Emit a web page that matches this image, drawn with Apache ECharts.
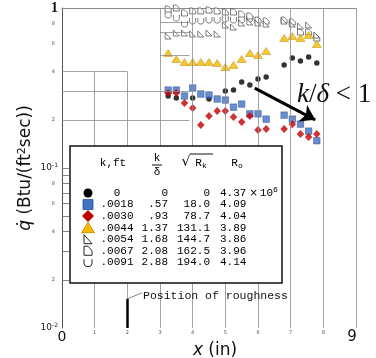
<!DOCTYPE html>
<html lang="en">
<head>
    <meta charset="UTF-8">
    <title>Heat transfer downstream of roughness</title>
    <style>
        html, body {margin: 0; padding: 0; background: #fff;}
        #main {width: 376px; height: 358px;}
    </style>
</head>
<body>
<div id="main"></div>
<script src="https://cdn.jsdelivr.net/npm/echarts@6.0.0/dist/echarts.min.js"></script>
<script>
    /* gauge positions, x (in) */
    var xRough = [3.25, 3.5, 3.75, 4.0, 4.25, 4.5, 4.75, 5.0, 5.25, 5.5, 5.75, 6.0, 6.25, 6.8, 7.05, 7.3, 7.55, 7.8];
    var xSmooth = [3.25, 3.5, 4.0, 4.5, 5.0, 5.25, 5.5, 5.75, 6.0, 6.25, 6.8, 7.05, 7.3, 7.55, 7.8];
    var xCup = [3.25, 3.5, 3.75, 4.0, 4.25, 4.5, 4.75, 5.0, 5.25, 5.5, 5.75];

    /* q dot, Btu/(ft^2 sec) */
    var q0000 = [0.282, 0.274, 0.274, 0.270, 0.303, 0.307, 0.345, 0.330, 0.360, 0.370, 0.441, 0.487, 0.466, 0.494, 0.453];
    var q0018 = [0.307, 0.307, 0.282, 0.316, 0.290, 0.286, 0.270, 0.266, 0.240, 0.251, 0.218, 0.218, 0.202, 0.214, 0.202, 0.188, 0.170, 0.148];
    var q0030 = [0.294, 0.294, 0.255, 0.237, 0.186, 0.211, 0.227, 0.227, 0.208, 0.194, 0.211, 0.173, 0.175, 0.175, 0.188, 0.163, 0.156, 0.163];
    var q0044 = [0.523, 0.480, 0.460, 0.460, 0.460, 0.460, 0.453, 0.428, 0.441, 0.480, 0.523, 0.508, 0.539, 0.649, 0.668, 0.649, 0.678, 0.596];
    var q0054 = [0.668, 0.698, 0.698, 0.688, 0.688, 0.698, 0.688, 0.783, 0.761, 0.806, 0.818, 0.806, 0.794, 0.829, 0.794, 0.772, 0.783, 0.678];
    var q0067 = [0.986, 1.000, 0.931, 0.958, 0.958, 0.972, 0.958, 0.944, 0.944, 0.917, 0.891, 0.841, 0.829, 0.841, 0.818, 0.708, 0.708, 0.649];
    var q0091 = [0.904, 0.866, 0.794, 0.829, 0.829, 0.841, 0.841, 0.854, 0.841, 0.841, 0.854];

    /* legend table */
    var kFt = ['0', '.0018', '.0030', '.0044', '.0054', '.0067', '.0091'];
    var kDelta = ['0', '.57', '.93', '1.37', '1.68', '2.08', '2.88'];
    var sqrtRk = ['0', '18.0', '78.7', '131.1', '144.7', '162.5', '194.0'];
    var Ro = ['4.37', '4.09', '4.04', '3.89', '3.86', '3.96', '4.14'];

    /* axis labels */
    var yLabelValues = [0.01, 0.02, 0.04, 0.06, 0.08, 0.1, 0.2, 0.4, 0.6, 0.8, 1];
    var yTickValues = [0.02, 0.03, 0.04, 0.05, 0.06, 0.07, 0.08, 0.09, 0.1];

    /* annotations, in data units */
    var roughnessX = 2;
    var roughnessTop = 0.0152;
    var leaderEnd = [2.45, 0.0166];
    var arrowFrom = [5.9, 0.316];
    var arrowTo = [7.75, 0.2];

    /* pieces of the original ruled grid */
    var gridX = [1, 2, 3, 4, 5, 6, 7, 8, 9];
    var gridXTop = [0.4, 0.4, 1, 1, 1, 1, 1, 1, 1];
    var gridY = [1, 0.82, 0.71, 0.51, 0.4, 0.3, 0.2];
    var gridYFrom = [0, 3, 3, 3, 0, 0, 0];
    var gridYTo = [3.9, 3.9, 3.9, 3.9, 2, 3.9, 3.9];

    function pairs(xs, ys) {
        var out = [];
        for (var i = 0; i < ys.length; i++) out.push([xs[i], ys[i]]);
        return out;
    }

    var triPath = 'path://M0,0 L0,10 L10,10 Z';
    var dPath = 'path://M0,0 L5,0 L10,5 L10,10 L0,10 Z';
    var cupPath = 'path://M0,0 L0,6 C0,11 10,11 10,6 L10,0';

    var gridLines = [];
    for (var i = 0; i < gridX.length; i++) {
        gridLines.push([{coord: [gridX[i], 0.01]}, {coord: [gridX[i], gridXTop[i]]}]);
    }
    for (var j = 0; j < gridY.length; j++) {
        gridLines.push([{coord: [gridYFrom[j], gridY[j]]}, {coord: [gridYTo[j], gridY[j]]}]);
    }

    var mono = '"Liberation Mono", monospace';
    function txt(x, y, s, align, extra) {
        var st = {
            text: s, x: x, y: y, fill: '#000',
            font: '11px ' + mono,
            align: align, textAlign: align,
            verticalAlign: 'middle', textVerticalAlign: 'middle'
        };
        for (var key in (extra || {})) st[key] = extra[key];
        return {type: 'text', z: 102, style: st};
    }

    /* table box */
    var graphics = [{
        type: 'rect', z: 100,
        shape: {x: 70, y: 146, width: 212, height: 137},
        style: {fill: '#fff', stroke: '#111', lineWidth: 1.5}
    }];
    graphics.push(txt(113, 163, 'k,ft', 'center'));
    graphics.push(txt(157, 158, 'k', 'center'));
    graphics.push({type: 'line', z: 102, shape: {x1: 152, y1: 165, x2: 162, y2: 165}, style: {stroke: '#111', lineWidth: 1}});
    graphics.push(txt(157, 172, 'δ', 'center'));
    graphics.push(txt(186, 162, '√', 'center', {font: '14px "DejaVu Sans"'}));
    graphics.push({type: 'line', z: 102, shape: {x1: 190, y1: 154, x2: 213, y2: 154}, style: {stroke: '#111', lineWidth: 1}});
    graphics.push(txt(201, 163, '{r|R}{s|k}', 'center', {rich: {r: {font: '11px ' + mono, fill: '#000'}, s: {font: '8px ' + mono, fill: '#000', padding: [5, 0, 0, 0]}}}));
    graphics.push(txt(237, 163, '{r|R}{s|o}', 'center', {rich: {r: {font: '11px ' + mono, fill: '#000'}, s: {font: '8px ' + mono, fill: '#000', padding: [5, 0, 0, 0]}}}));

    var rowY = [];
    for (var r = 0; r < kFt.length; r++) rowY.push(193 + r * 11.55);
    for (var r2 = 0; r2 < kFt.length; r2++) {
        var yy = rowY[r2];
        graphics.push(txt(117, yy, kFt[r2], 'center'));
        graphics.push(txt(168, yy, kDelta[r2], 'right'));
        graphics.push(txt(210, yy, sqrtRk[r2], 'right'));
        if (r2 === 0) {
            graphics.push(txt(220, yy, '{n|' + Ro[r2] + '}{x|×}{n|10}{p|6}', 'left', {rich: {
                n: {font: '11px ' + mono, fill: '#000'},
                x: {font: '10px "DejaVu Sans"', fill: '#000', padding: [0, 2, 0, 3]},
                p: {font: '8px ' + mono, fill: '#000', padding: [0, 0, 7, 0]}
            }}));
        } else {
            graphics.push(txt(220, yy, Ro[r2], 'left'));
        }
    }

    /* legend markers */
    var mx = 88;
    graphics.push({type: 'circle', z: 102, shape: {cx: mx, cy: rowY[0], r: 4.5}, style: {fill: '#000'}});
    graphics.push({type: 'rect', z: 102, shape: {x: mx - 5, y: rowY[1] - 5, width: 10, height: 10}, style: {fill: '#4472c4', stroke: '#2b4c8c', lineWidth: 0.8}});
    graphics.push({type: 'polygon', z: 102, shape: {points: [[mx, rowY[2] - 6], [mx + 6, rowY[2]], [mx, rowY[2] + 6], [mx - 6, rowY[2]]]}, style: {fill: '#c00000'}});
    graphics.push({type: 'polygon', z: 102, shape: {points: [[mx, rowY[3] - 5.5], [mx + 6.5, rowY[3] + 5], [mx - 6.5, rowY[3] + 5]]}, style: {fill: '#f5b800', stroke: '#b88a00', lineWidth: 0.8}});
    graphics.push({type: 'polygon', z: 102, shape: {points: [[mx - 4, rowY[4] - 4.5], [mx - 4, rowY[4] + 4.5], [mx + 4, rowY[4] + 4.5]]}, style: {fill: '#fff', stroke: '#222', lineWidth: 1}});
    graphics.push({type: 'polygon', z: 102, shape: {points: [[mx - 4, rowY[5] - 4.5], [mx, rowY[5] - 4.5], [mx + 4, rowY[5]], [mx + 4, rowY[5] + 4.5], [mx - 4, rowY[5] + 4.5]]}, style: {fill: '#fff', stroke: '#222', lineWidth: 1}});
    graphics.push({type: 'polyline', z: 102, shape: {points: [[mx - 4, rowY[6] - 3], [mx - 4, rowY[6] + 1.5], [mx - 3, rowY[6] + 3.5], [mx, rowY[6] + 4.5], [mx + 3, rowY[6] + 3.5], [mx + 4, rowY[6] + 1.5], [mx + 4, rowY[6] - 3]]}, style: {fill: 'none', stroke: '#222', lineWidth: 1}});

    /* annotations */
    graphics.push(txt(143, 296, 'Position of roughness', 'left', {font: '11.5px ' + mono, fill: '#111'}));
    graphics.push({
        type: 'text', z: 102,
        style: {
            text: '{i|k}{u|/}{i|δ}{u| < 1}', x: 297, y: 95,
            align: 'left', textAlign: 'left', verticalAlign: 'middle', textVerticalAlign: 'middle',
            rich: {
                i: {font: 'italic 27px "Liberation Serif"', fill: '#111'},
                u: {font: '27px "Liberation Serif"', fill: '#111'}
            }
        }
    });

    var myChart = echarts.init(document.getElementById('main'));
    var option = {
        animation: false,
        backgroundColor: '#fff',
        grid: {left: 62, right: 20, top: 8, bottom: 30, containLabel: false, outerBoundsMode: 'none'},
        xAxis: {
            type: 'value', min: 0, max: 9, interval: 1,
            name: '{i|x} (in)',
            nameLocation: 'middle', nameGap: 14, nameMoveOverlap: false,
            nameTextStyle: {
                fontFamily: 'DejaVu Sans', fontSize: 17, color: '#111', padding: [0, 0, 0, 12],
                rich: {i: {fontFamily: 'DejaVu Sans', fontStyle: 'italic', fontSize: 17, color: '#111'}}
            },
            axisLine: {show: true, lineStyle: {color: '#8c8c8c', width: 1}},
            axisTick: {show: false},
            splitLine: {show: false},
            axisLabel: {
                margin: 2,
                formatter: function (v) {
                    if (v === 0) return '{b|0}';
                    if (v === 9) return '{b9|9}';
                    return '{s|' + v + '}';
                },
                rich: {
                    b: {fontFamily: 'DejaVu Sans', fontSize: 14, color: '#111'},
                    b9: {fontFamily: 'DejaVu Sans', fontSize: 15, color: '#111', padding: [0, 8, 0, 0]},
                    s: {fontFamily: 'DejaVu Sans', fontSize: 5, color: '#555'}
                }
            }
        },
        yAxis: [{
            type: 'log', logBase: 10, min: 0.01, max: 1,
            name: '{i|q̇} (Btu/(ft{p|2}sec))',
            nameLocation: 'middle', nameGap: 28, nameRotate: 90, nameMoveOverlap: false,
            nameTextStyle: {
                fontFamily: 'DejaVu Sans', fontSize: 17, color: '#111',
                rich: {
                    i: {fontFamily: 'DejaVu Sans', fontStyle: 'italic', fontSize: 17, color: '#111'},
                    p: {fontFamily: 'DejaVu Sans', fontSize: 11, color: '#111', verticalAlign: 'top'}
                }
            },
            axisLine: {show: true, lineStyle: {color: '#555', width: 1}},
            axisTick: {show: false},
            axisLabel: {show: false},
            splitLine: {show: false}
        }, {
            type: 'value', min: -2, max: 0, position: 'left',
            axisLine: {show: false},
            splitLine: {show: false},
            axisTick: {
                show: true, inside: true, length: 7,
                customValues: yTickValues.map(function (v) { return Math.log10(v); }),
                lineStyle: {color: '#666', width: 0.8}
            },
            axisLabel: {
                margin: 4,
                customValues: yLabelValues.map(function (v) { return Math.log10(v); }),
                formatter: function (v) {
                    var e = Math.round(v);
                    if (Math.abs(v - e) < 1e-6) {
                        if (e === 0) return '{one|1}';
                        return '{d|10}{p|' + e + '}';
                    }
                    var m = Math.round(Math.pow(10, v - Math.floor(v + 1e-9)));
                    return '{s|' + m + '}';
                },
                rich: {
                    one: {fontFamily: 'Liberation Serif', fontWeight: 'bold', fontSize: 14, color: '#111'},
                    d: {fontFamily: 'DejaVu Sans', fontSize: 9, color: '#222'},
                    p: {fontFamily: 'DejaVu Sans', fontSize: 6, color: '#222', padding: [0, 0, 5, 0]},
                    s: {fontFamily: 'DejaVu Sans', fontSize: 5, color: '#555', padding: [0, 3, 0, 0]}
                }
            }
        }],
        graphic: {elements: graphics},
        series: [{
            name: 'grid', type: 'scatter', data: [], z: 1, silent: true,
            markLine: {
                silent: true, symbol: 'none', animation: false,
                label: {show: false},
                lineStyle: {color: '#8c8c8c', width: 0.8, type: 'solid'},
                data: gridLines
            }
        }, {
            name: '.0091', type: 'scatter', data: pairs(xCup, q0091),
            symbol: cupPath, symbolSize: [6, 6],
            itemStyle: {color: '#fff', borderColor: '#333', borderWidth: 0.8}
        }, {
            name: '.0067', type: 'scatter', data: pairs(xRough, q0067),
            symbol: dPath, symbolSize: [6, 6],
            itemStyle: {color: '#fff', borderColor: '#333', borderWidth: 0.8}
        }, {
            name: '.0054', type: 'scatter', data: pairs(xRough, q0054),
            symbol: triPath, symbolSize: [6, 6],
            itemStyle: {color: '#fff', borderColor: '#333', borderWidth: 0.8}
        }, {
            name: '.0044', type: 'scatter', data: pairs(xRough, q0044),
            symbol: 'triangle', symbolSize: [9, 7],
            itemStyle: {color: '#f5b800', borderColor: '#b88a00', borderWidth: 0.6}
        }, {
            name: '0', type: 'scatter', data: pairs(xSmooth, q0000),
            symbol: 'circle', symbolSize: 5.5,
            itemStyle: {color: '#000'}
        }, {
            name: '.0018', type: 'scatter', data: pairs(xRough, q0018),
            symbol: 'rect', symbolSize: 6.5,
            itemStyle: {color: '#4472c4', borderColor: '#2b4c8c', borderWidth: 0.6}
        }, {
            name: '.0030', type: 'scatter', data: pairs(xRough, q0030),
            symbol: 'diamond', symbolSize: [7.5, 8],
            itemStyle: {color: '#c00000'}
        }, {
            name: 'notes', type: 'scatter', data: [], z: 5, silent: true,
            markLine: {
                silent: true, animation: false,
                label: {show: false},
                data: [
                    [{coord: [roughnessX, 0.01], symbol: 'none', lineStyle: {color: '#000', width: 2.5, type: 'solid'}},
                     {coord: [roughnessX, roughnessTop], symbol: 'none'}],
                    [{coord: [roughnessX, roughnessTop], symbol: 'none', lineStyle: {color: '#666', width: 0.8, type: 'solid'}},
                     {coord: leaderEnd, symbol: 'none'}],
                    [{coord: arrowFrom, symbol: 'none', lineStyle: {color: '#000', width: 3, type: 'solid'}},
                     {coord: arrowTo, symbol: 'arrow', symbolSize: 14}]
                ]
            }
        }]
    };
    myChart.setOption(option);
</script>
</body>
</html>
